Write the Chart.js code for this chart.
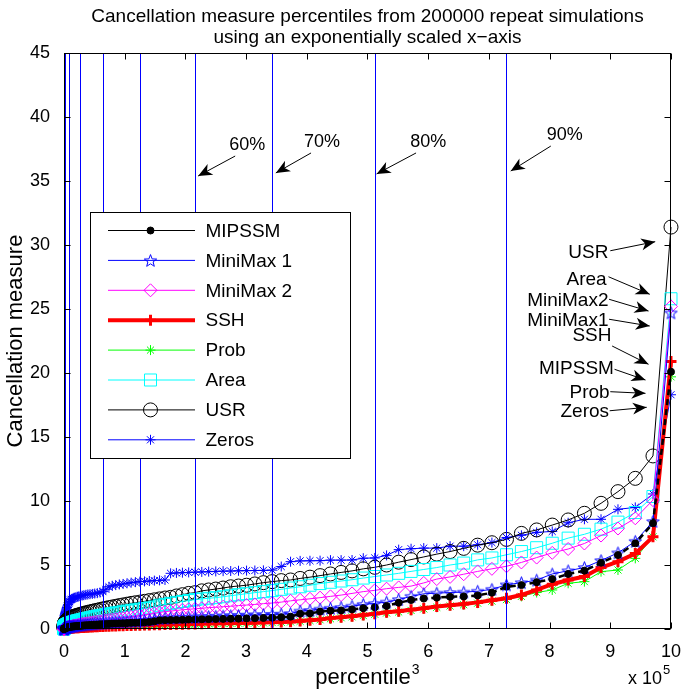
<!DOCTYPE html>
<html>
<head>
<meta charset="utf-8">
<script src="https://cdn.jsdelivr.net/npm/chart.js@4.4.1/dist/chart.umd.min.js"></script>
<style>
  html, body { margin: 0; padding: 0; background: #fff; }
  #wrap { width: 685px; height: 692px; }
</style>
</head>
<body>
<div id="wrap"><canvas id="c" width="685" height="692"></canvas></div>
<script>
/* Cancellation measure percentiles, x axis = percentile^3 */

// percentile grid 0..100 (plotted at p^3)
const percentiles = Array.from({ length: 101 }, (_, i) => i);

const mipssm = [
  0,0,0,0.01,0.01,0.01,0.02,0.02,0.03,0.04,
  0.05,0.05,0.06,0.07,0.08,0.09,0.1,0.11,0.12,0.13,
  0.15,0.16,0.17,0.18,0.19,0.2,0.21,0.22,0.23,0.24,
  0.25,0.26,0.28,0.29,0.3,0.31,0.33,0.34,0.35,0.37,
  0.38,0.39,0.4,0.42,0.43,0.44,0.45,0.46,0.48,0.49,
  0.5,0.52,0.55,0.6,0.68,0.69,0.7,0.71,0.72,0.74,
  0.75,0.76,0.77,0.78,0.79,0.8,0.81,0.83,0.84,0.86,
  0.88,0.92,0.96,1.2,1.22,1.36,1.43,1.45,1.53,1.62,
  1.69,1.8,2.05,2.26,2.38,2.45,2.52,2.54,2.62,2.84,
  3.3,3.43,3.66,3.9,4.3,4.56,5.18,5.78,6.69,8.26,
  20.1
];
const miniMax1 = [
  0,0,0.01,0.01,0.02,0.02,0.03,0.04,0.05,0.06,
  0.07,0.08,0.09,0.1,0.11,0.12,0.13,0.14,0.15,0.16,
  0.17,0.18,0.19,0.2,0.22,0.23,0.24,0.25,0.27,0.28,
  0.3,0.31,0.33,0.34,0.36,0.37,0.39,0.4,0.42,0.43,
  0.45,0.46,0.48,0.5,0.52,0.54,0.55,0.57,0.59,0.61,
  0.63,0.66,0.7,0.75,0.82,0.84,0.86,0.88,0.9,0.92,
  0.94,0.96,0.98,1.0,1.02,1.04,1.06,1.08,1.1,1.12,
  1.14,1.16,1.2,1.4,1.45,1.55,1.62,1.68,1.78,1.92,
  2.0,2.1,2.3,2.55,2.75,2.8,2.85,2.88,2.95,3.1,
  3.45,3.62,3.82,4.3,4.55,4.8,5.35,5.95,6.85,8.4,
  24.7
];
const miniMax2 = [
  0,0,0,0,0,0.01,0.01,0.02,0.02,0.03,
  0.05,0.05,0.06,0.07,0.08,0.09,0.1,0.11,0.12,0.14,
  0.15,0.17,0.18,0.2,0.22,0.24,0.26,0.28,0.3,0.33,
  0.35,0.38,0.4,0.43,0.45,0.48,0.51,0.54,0.57,0.6,
  0.62,0.66,0.7,0.74,0.78,0.82,0.86,0.9,0.95,1.0,
  1.05,1.1,1.16,1.23,1.3,1.35,1.4,1.45,1.5,1.54,
  1.58,1.62,1.67,1.7,1.74,1.78,1.83,1.87,1.92,1.98,
  2.03,2.1,2.2,2.28,2.36,2.45,2.55,2.65,2.78,2.92,
  3.02,3.15,3.25,3.35,3.6,3.9,4.07,4.28,4.5,4.7,
  4.9,5.2,5.58,5.95,6.25,6.68,7.3,7.85,8.65,10.07,
  25.2
];
const ssh = [
  0,0,0,0,0,0,0,0,0.01,0.01,
  0.01,0.02,0.02,0.02,0.03,0.03,0.04,0.04,0.05,0.05,
  0.06,0.06,0.07,0.07,0.08,0.08,0.09,0.09,0.1,0.1,
  0.11,0.12,0.12,0.13,0.14,0.15,0.16,0.17,0.18,0.19,
  0.2,0.21,0.22,0.23,0.24,0.25,0.26,0.27,0.28,0.29,
  0.3,0.31,0.32,0.33,0.34,0.35,0.36,0.37,0.38,0.39,
  0.4,0.41,0.42,0.43,0.44,0.45,0.46,0.47,0.48,0.5,
  0.52,0.54,0.56,0.62,0.68,0.75,0.85,0.92,1.0,1.1,
  1.2,1.3,1.38,1.5,1.62,1.75,1.85,1.95,2.08,2.25,
  2.4,2.66,3.05,3.5,3.83,4.1,4.8,5.26,5.9,7.2,
  20.9
];
const prob = [
  0,0,0,0,0,0,0,0,0,0.01,
  0.01,0.01,0.02,0.02,0.02,0.03,0.03,0.04,0.04,0.05,
  0.05,0.06,0.06,0.07,0.07,0.08,0.08,0.09,0.09,0.1,
  0.1,0.11,0.12,0.12,0.13,0.14,0.15,0.16,0.17,0.18,
  0.19,0.2,0.21,0.22,0.23,0.24,0.25,0.26,0.27,0.28,
  0.29,0.3,0.31,0.32,0.33,0.34,0.35,0.36,0.37,0.38,
  0.39,0.4,0.41,0.42,0.43,0.44,0.45,0.46,0.47,0.48,
  0.5,0.52,0.55,0.6,0.66,0.72,0.8,0.88,0.95,1.05,
  1.15,1.25,1.33,1.45,1.57,1.7,1.8,1.9,2.02,2.18,
  2.3,2.55,2.85,3.05,3.57,3.7,4.48,4.61,5.52,7.2,
  19.7
];
const area = [
  0,0.02,0.04,0.06,0.08,0.1,0.12,0.14,0.16,0.18,
  0.2,0.22,0.24,0.26,0.28,0.3,0.32,0.34,0.37,0.4,
  0.42,0.45,0.47,0.5,0.52,0.55,0.58,0.61,0.64,0.67,
  0.7,0.73,0.77,0.8,0.84,0.88,0.92,0.96,1.0,1.04,
  1.08,1.12,1.17,1.21,1.26,1.3,1.35,1.4,1.45,1.5,
  1.55,1.6,1.65,1.72,1.85,1.92,2.0,2.08,2.15,2.22,
  2.3,2.35,2.4,2.45,2.52,2.6,2.68,2.76,2.84,2.92,
  3.0,3.1,3.2,3.3,3.42,3.55,3.65,3.75,3.85,3.98,
  4.1,4.22,4.35,4.5,4.65,4.8,5.0,5.15,5.4,5.55,
  5.8,6.05,6.35,6.7,7.1,7.4,7.8,8.35,9.1,10.35,
  25.8
];
const usr = [
  0.05,0.1,0.15,0.2,0.22,0.27,0.3,0.35,0.38,0.42,
  0.45,0.5,0.53,0.57,0.6,0.63,0.67,0.7,0.74,0.77,
  0.8,0.84,0.87,0.9,0.94,0.97,1.0,1.04,1.07,1.1,
  1.14,1.18,1.22,1.26,1.3,1.34,1.38,1.43,1.47,1.52,
  1.57,1.62,1.67,1.72,1.77,1.83,1.88,1.94,2.0,2.05,
  2.1,2.16,2.22,2.28,2.35,2.42,2.47,2.58,2.68,2.78,
  2.84,2.98,3.05,3.12,3.2,3.3,3.36,3.42,3.52,3.62,
  3.7,3.78,3.83,3.95,4.05,4.17,4.3,4.42,4.54,4.7,
  4.82,5.0,5.22,5.42,5.63,5.85,6.05,6.3,6.55,6.74,
  7.0,7.47,7.74,8.12,8.52,9.04,9.82,10.73,11.77,13.52,
  31.4
];
const zeros = [
  0.05,0.15,0.25,0.35,0.45,0.55,0.65,0.75,0.85,0.95,
  1.05,1.12,1.2,1.28,1.38,1.48,1.58,1.68,1.8,1.92,
  2.05,2.15,2.27,2.32,2.36,2.4,2.44,2.48,2.52,2.55,
  2.58,2.61,2.64,2.67,2.7,2.72,2.74,2.77,2.8,2.85,
  2.92,3.1,3.3,3.38,3.43,3.48,3.52,3.57,3.62,3.66,
  3.7,3.72,3.75,3.78,3.8,3.83,4.35,4.38,4.4,4.42,
  4.44,4.46,4.48,4.5,4.52,4.53,4.55,4.56,4.57,4.58,
  4.6,4.88,5.26,5.32,5.33,5.34,5.38,5.38,5.39,5.53,
  5.55,5.75,6.2,6.27,6.32,6.32,6.47,6.47,6.58,6.75,
  7.15,7.32,7.55,7.62,8.3,8.57,8.57,9.35,9.5,10.55,
  18.3
];

// percentile marker lines and axis ticks
const guidePercentiles = [10, 20, 30, 40, 50, 60, 70, 80, 90];
const xTicks = [0, 1, 2, 3, 4, 5, 6, 7, 8, 9, 10];   // x 10^5
const yTicks = [0, 5, 10, 15, 20, 25, 30, 35, 40, 45];

// callouts, in axis units (x in 10^5, y in measure)
const pctNotes = [
  { text: "60%", at: [3.02, 37.8], from: [2.82, 36.95], to: [2.21, 35.39] },
  { text: "70%", at: [4.25, 38.05], from: [4.07, 37.19], to: [3.49, 35.63] },
  { text: "80%", at: [6.0, 38.05], from: [5.8, 37.19], to: [5.15, 35.55] },
  { text: "90%", at: [8.25, 38.6], from: [8.02, 37.73], to: [7.36, 35.78] },
];
const endNotes = [
  { text: "USR", at: [8.97, 29.48], from: [9.0, 29.55], to: [9.74, 30.26] },
  { text: "Area", at: [8.94, 27.4], from: [8.97, 27.52], to: [9.65, 26.15] },
  { text: "MiniMax2", at: [8.97, 25.7], from: [8.98, 25.76], to: [9.63, 24.84] },
  { text: "MiniMax1", at: [8.97, 24.14], from: [8.98, 24.2], to: [9.65, 23.67] },
  { text: "SSH", at: [9.02, 22.97], from: [9.03, 22.11], to: [9.63, 20.68] },
  { text: "MIPSSM", at: [9.06, 20.37], from: [9.07, 20.29], to: [9.58, 19.45] },
  { text: "Prob", at: [8.99, 18.54], from: [9.0, 18.54], to: [9.58, 18.41] },
  { text: "Zeros", at: [8.98, 17.05], from: [8.99, 17.05], to: [9.6, 17.32] },
];

const FONT = '"Liberation Sans", Arial, Helvetica, sans-serif';
const font = (s) => s + "px " + FONT;
const cube = (p) => p * p * p;

function pentagram(color, R) {
  const c = document.createElement("canvas");
  const s = Math.ceil(R * 2 + 4);
  c.width = c.height = s;
  const g = c.getContext("2d");
  g.strokeStyle = color; g.lineWidth = 1;
  g.beginPath();
  for (let k = 0; k < 10; k++) {
    const r = k % 2 ? R * 0.42 : R;
    const a = -Math.PI / 2 + k * Math.PI / 5;
    const px = s / 2 + r * Math.cos(a), py = s / 2 + 0.6 + r * Math.sin(a);
    k ? g.lineTo(px, py) : g.moveTo(px, py);
  }
  g.closePath(); g.stroke();
  return c;
}
const starImg = pentagram("#0000ff", 6.5);

const none = "rgba(0,0,0,0)";
function series(label, values, style) {
  return Object.assign({
    label,
    data: values.map((v, i) => ({ x: cube(percentiles[i]), y: v })),
    fill: false, tension: 0, clip: false,
    pointBackgroundColor: none, pointBorderWidth: 1,
  }, style);
}

const datasets = [
  series("MIPSSM", mipssm, { borderColor: "#000", borderWidth: 2.5, borderDash: [6, 4], legendWidth: 1,
    pointStyle: "circle", pointRadius: 3.5, pointBackgroundColor: "#000", pointBorderColor: "#000" }),
  series("MiniMax 1", miniMax1, { borderColor: "#0000ff", borderWidth: 1, pointStyle: starImg, pointBorderColor: "#0000ff" }),
  series("MiniMax 2", miniMax2, { borderColor: "#ff00ff", borderWidth: 1, pointStyle: "rectRot", pointRadius: 6.5, pointBorderColor: "#ff00ff" }),
  series("SSH", ssh, { borderColor: "#ff0000", borderWidth: 4, pointStyle: "cross", pointRadius: 5.5, pointBorderWidth: 3, pointBorderColor: "#ff0000" }),
  series("Prob", prob, { borderColor: "#00ff00", borderWidth: 1, pointStyle: "star", pointRadius: 5, pointBorderColor: "#00ff00" }),
  series("Area", area, { borderColor: "#00ffff", borderWidth: 1, pointStyle: "rect", pointRadius: 8.5, pointBorderColor: "#00ffff" }),
  series("USR", usr, { borderColor: "#000", borderWidth: 1, pointStyle: "circle", pointRadius: 7, pointBorderColor: "#000" }),
  series("Zeros", zeros, { borderColor: "#0000ff", borderWidth: 1, pointStyle: "star", pointRadius: 5, pointBorderColor: "#0000ff" }),
];

function seg(ctx, x1, y1, x2, y2) {
  ctx.beginPath(); ctx.moveTo(x1, y1); ctx.lineTo(x2, y2); ctx.stroke();
}

function arrow(ctx, x1, y1, x2, y2) {
  seg(ctx, x1, y1, x2, y2);
  const ang = Math.atan2(y2 - y1, x2 - x1);
  const L = 14, W = 6;
  const cx = Math.cos(ang), sy = Math.sin(ang);
  const bx = x2 - L * cx, by = y2 - L * sy;
  const mx = x2 - L * 0.72 * cx, my = y2 - L * 0.72 * sy;
  ctx.beginPath();
  ctx.moveTo(x2, y2);
  ctx.lineTo(bx - sy * W, by + cx * W);
  ctx.lineTo(mx, my);
  ctx.lineTo(bx + sy * W, by - cx * W);
  ctx.closePath(); ctx.fill();
}

// marker glyphs for the legend box
function marker(ctx, ds, x, y) {
  const st = ds.pointStyle, r = ds.pointRadius;
  ctx.save();
  ctx.strokeStyle = ds.pointBorderColor; ctx.fillStyle = ds.pointBackgroundColor;
  ctx.lineWidth = ds.pointBorderWidth;
  ctx.beginPath();
  if (st instanceof HTMLCanvasElement) {
    ctx.drawImage(st, x - st.width / 2, y - st.height / 2);
  } else if (st === "circle") {
    ctx.arc(x, y, r, 0, Math.PI * 2); ctx.fill(); ctx.stroke();
  } else if (st === "rect") {
    const h = r * Math.SQRT1_2; ctx.rect(x - h, y - h, 2 * h, 2 * h); ctx.stroke();
  } else if (st === "rectRot") {
    ctx.moveTo(x - r, y); ctx.lineTo(x, y - r); ctx.lineTo(x + r, y); ctx.lineTo(x, y + r); ctx.closePath(); ctx.stroke();
  } else if (st === "cross") {
    ctx.moveTo(x, y - r); ctx.lineTo(x, y + r); ctx.moveTo(x - r, y); ctx.lineTo(x + r, y); ctx.stroke();
  } else if (st === "star") {
    const d = r * Math.SQRT1_2;
    ctx.moveTo(x, y - r); ctx.lineTo(x, y + r); ctx.moveTo(x - r, y); ctx.lineTo(x + r, y);
    ctx.moveTo(x - d, y - d); ctx.lineTo(x + d, y + d); ctx.moveTo(x - d, y + d); ctx.lineTo(x + d, y - d);
    ctx.stroke();
  }
  ctx.restore();
}

const decor = {
  id: "decor",
  afterDatasetsDraw(chart) {
    const { ctx, chartArea: a, scales: { x, y } } = chart;
    ctx.save();
    ctx.strokeStyle = "#0000ff"; ctx.lineWidth = 1;
    guidePercentiles.forEach((p) => {
      const px = Math.round(x.getPixelForValue(cube(p))) + 0.5;
      seg(ctx, px, a.top, px, a.bottom);
    });
    // axes box with inward ticks
    ctx.strokeStyle = "#000"; ctx.lineWidth = 1;
    const L = 6;
    const l = Math.round(a.left) + 0.5, r = Math.round(a.right) - 0.5;
    const t = Math.round(a.top) + 0.5, b = Math.round(a.bottom) - 0.5;
    ctx.strokeRect(l, t, r - l, b - t);
    xTicks.forEach((v) => {
      const px = Math.round(x.getPixelForValue(v * 1e5)) + 0.5;
      seg(ctx, px, b, px, b - L); seg(ctx, px, t, px, t + L);
    });
    yTicks.forEach((v) => {
      const py = Math.round(y.getPixelForValue(v)) + 0.5;
      seg(ctx, l, py, l + L, py); seg(ctx, r, py, r - L, py);
    });
    ctx.restore();
  },
  afterDraw(chart) {
    const { ctx, chartArea: a, scales: { x, y } } = chart;
    const X = (v) => x.getPixelForValue(v * 1e5), Y = (v) => y.getPixelForValue(v);
    ctx.save();
    ctx.fillStyle = "#000"; ctx.strokeStyle = "#000"; ctx.lineWidth = 1;

    // legend box
    const bx = a.left + 26.5, by = a.top + 159.5, bw = 260, bh = 246;
    ctx.fillStyle = "#fff"; ctx.fillRect(bx, by, bw, bh);
    ctx.strokeRect(bx, by, bw, bh);
    ctx.textBaseline = "middle"; ctx.textAlign = "left"; ctx.font = font(19);
    chart.data.datasets.forEach((ds, i) => {
      const ry = by + 18 + i * 29.9;
      ctx.save();
      ctx.strokeStyle = ds.borderColor; ctx.lineWidth = ds.legendWidth || ds.borderWidth;
      seg(ctx, bx + 17.5, ry, bx + 104.5, ry);
      ctx.restore();
      marker(ctx, ds, bx + 60, ry);
      ctx.fillStyle = "#000";
      ctx.fillText(ds.label, bx + 115, ry + 1);
    });

    // percentile callouts
    ctx.font = font(18); ctx.textAlign = "center";
    pctNotes.forEach((n) => {
      ctx.fillText(n.text, X(n.at[0]), Y(n.at[1]));
      arrow(ctx, X(n.from[0]), Y(n.from[1]), X(n.to[0]), Y(n.to[1]));
    });
    // curve-end callouts
    ctx.font = font(19); ctx.textAlign = "right";
    endNotes.forEach((n) => {
      ctx.fillText(n.text, X(n.at[0]), Y(n.at[1]) + 1);
      arrow(ctx, X(n.from[0]), Y(n.from[1]), X(n.to[0]), Y(n.to[1]));
    });

    // titles
    ctx.textAlign = "center"; ctx.font = font(19);
    const cx = (a.left + a.right) / 2;
    ctx.fillText("Cancellation measure percentiles from 200000 repeat simulations", cx, 17);
    ctx.fillText("using an exponentially scaled x\u2212axis", cx, 38);

    ctx.font = font(22);
    ctx.save();
    ctx.translate(16, (a.top + a.bottom) / 2);
    ctx.rotate(-Math.PI / 2);
    ctx.fillText("Cancellation measure", 0, 0);
    ctx.restore();

    ctx.textAlign = "left";
    const xl = "percentile";
    const w = ctx.measureText(xl).width;
    const lx = cx - (w + 9) / 2;
    ctx.fillText(xl, lx, 678);
    ctx.font = font(14); ctx.fillText("3", lx + w + 1, 670);

    ctx.font = font(18); ctx.textAlign = "right";
    ctx.fillText("x 10", a.right - 9, 679);
    ctx.font = font(13); ctx.textAlign = "left";
    ctx.fillText("5", a.right - 8, 670);
    ctx.restore();
  },
};

new Chart(document.getElementById("c"), {
  type: "line",
  data: { datasets },
  options: {
    responsive: false, animation: false, devicePixelRatio: 1,
    layout: { padding: { top: 53, right: 11, left: 0, bottom: 0 } },
    plugins: { legend: { display: false }, tooltip: { enabled: false }, title: { display: false } },
    scales: {
      x: {
        type: "linear", min: 0, max: 1e6,
        afterFit: (s) => { s.height = 63; },
        afterBuildTicks: (s) => { s.ticks = xTicks.map((v) => ({ value: v * 1e5 })); },
        ticks: { callback: (v) => String(v / 1e5), font: { family: FONT, size: 18 }, color: "#000", padding: 4, maxRotation: 0, autoSkip: false },
        grid: { display: false }, border: { display: false },
      },
      y: {
        type: "linear", min: 0, max: 45,
        afterFit: (s) => { s.width = 64; },
        afterBuildTicks: (s) => { s.ticks = yTicks.map((v) => ({ value: v })); },
        ticks: { font: { family: FONT, size: 18 }, color: "#000", padding: 6, autoSkip: false },
        grid: { display: false }, border: { display: false },
      },
    },
  },
  plugins: [decor],
});
</script>
</body>
</html>
